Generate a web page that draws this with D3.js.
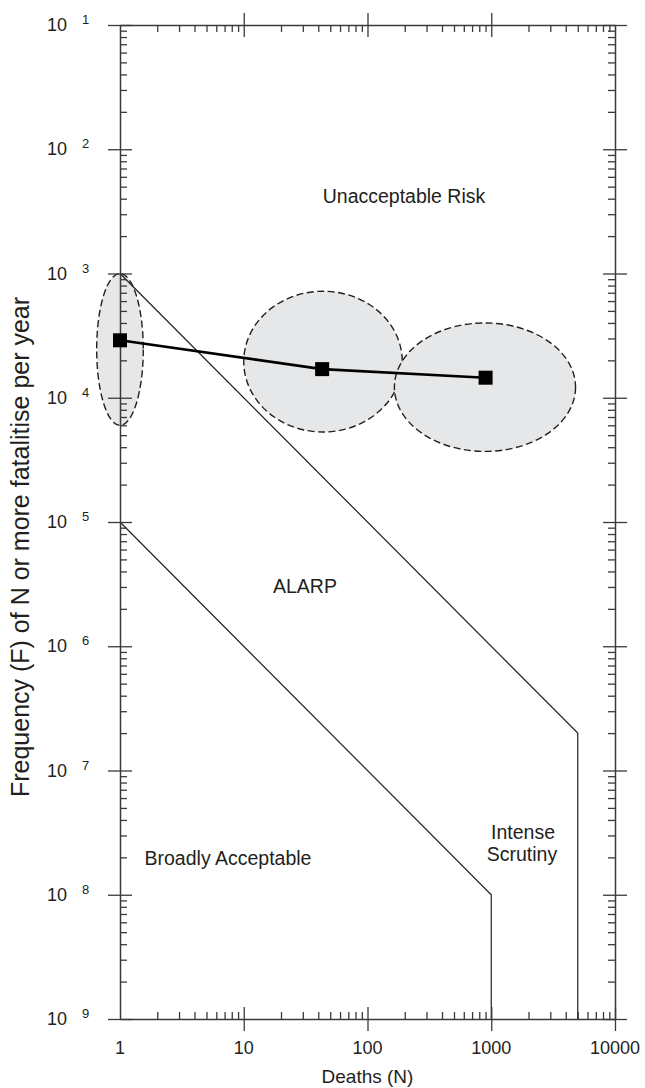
<!DOCTYPE html>
<html>
<head>
<meta charset="utf-8">
<script src="https://cdn.jsdelivr.net/npm/d3@7"></script>
<style>
  body { margin: 0; background: #fff; }
  text { font-family: "Liberation Sans", Arial, sans-serif; fill: #231f20; }
</style>
</head>
<body>
<svg id="chart" width="645" height="1088"></svg>
<script>
// decades on the axes
var xDecades = [1, 10, 100, 1000, 10000];
var xTickLabels = ["1", "10", "100", "1000", "10000"];
var yDecades = [1e-1, 1e-2, 1e-3, 1e-4, 1e-5, 1e-6, 1e-7, 1e-8, 1e-9];
var yTickSup = ["1", "2", "3", "4", "5", "6", "7", "8", "9"];

// criterion lines (N, F)
var upperN = [1, 5000, 5000];
var upperF = [1e-3, 2e-7, 1e-9];
var lowerN = [1, 1000, 1000];
var lowerF = [1e-5, 1e-8, 1e-9];

// estimated risk points
var pointN = [1, 43, 900];
var pointF = [2.9e-4, 1.7e-4, 1.45e-4];

// uncertainty ellipses, bounds in N and F
var ellNLow = [0.648, 10.0, 165];
var ellNHigh = [1.542, 191, 4800];
var ellFHigh = [1.0e-3, 7.2e-4, 4.0e-4];
var ellFLow = [6.0e-5, 5.3e-5, 3.7e-5];

var svg = d3.select("#chart");

var x = d3.scaleLog().domain([1, 10000]).range([120, 615]);
var y = d3.scaleLog().domain([1e-1, 1e-9]).range([25, 1019]);

// minor ticks 2..9 in every decade
var xMinor = [];
for (var i = 0; i < xDecades.length - 1; i++) {
  for (var m = 2; m <= 9; m++) xMinor.push(xDecades[i] * m);
}
var yMinor = [];
for (var i = 1; i < yDecades.length; i++) {
  for (var m = 2; m <= 9; m++) yMinor.push(yDecades[i] * m);
}
var xAll = xDecades.concat(xMinor);
var yAll = yDecades.concat(yMinor);

function isMajorX(d) { return xDecades.indexOf(d) >= 0; }
function isMajorY(d) { return yDecades.indexOf(d) >= 0; }

// ellipses
var ell = svg.append("g");
for (var i = 0; i < ellNLow.length; i++) {
  var x0 = x(ellNLow[i]), x1 = x(ellNHigh[i]);
  var y0 = y(ellFHigh[i]), y1 = y(ellFLow[i]);
  ell.append("ellipse")
    .attr("cx", (x0 + x1) / 2)
    .attr("cy", (y0 + y1) / 2)
    .attr("rx", (x1 - x0) / 2)
    .attr("ry", (y1 - y0) / 2)
    .attr("fill", "#e6e7e8")
    .attr("stroke", "#231f20")
    .attr("stroke-width", 1.4)
    .attr("stroke-dasharray", "7,3.5");
}

// criterion lines
var line = d3.line()
  .x(function(d) { return x(d[0]); })
  .y(function(d) { return y(d[1]); });

svg.append("path")
  .datum(d3.zip(upperN, upperF))
  .attr("d", line)
  .attr("fill", "none")
  .attr("stroke", "#231f20")
  .attr("stroke-width", 1.2);

svg.append("path")
  .datum(d3.zip(lowerN, lowerF))
  .attr("d", line)
  .attr("fill", "none")
  .attr("stroke", "#231f20")
  .attr("stroke-width", 1.2);

// axes
function styleAxis(g, isMajor, vertical) {
  g.select(".domain").attr("stroke", "#3a3a3a").attr("stroke-width", 1.5);
  g.selectAll(".tick line")
    .attr("stroke", "#3a3a3a")
    .attr("stroke-width", 1.3);
  g.selectAll(".tick").filter(isMajor).select("line")
    .attr(vertical ? "x1" : "y1", -12)
    .attr(vertical ? "x2" : "y2", 12);
  g.selectAll(".tick text").remove();
}

var gLeft = svg.append("g").attr("transform", "translate(120,0)")
  .call(d3.axisLeft(y).tickValues(yAll).tickSize(-7).tickSizeOuter(0).tickFormat(""));
styleAxis(gLeft, isMajorY, true);

var gRight = svg.append("g").attr("transform", "translate(615,0)")
  .call(d3.axisRight(y).tickValues(yAll).tickSize(-7).tickSizeOuter(0).tickFormat(""));
styleAxis(gRight, isMajorY, true);

var gTop = svg.append("g").attr("transform", "translate(0,25)")
  .call(d3.axisTop(x).tickValues(xAll.filter(function(d) { return d != 1 && d != 10000; }))
    .tickSize(-7).tickSizeOuter(0).tickFormat(""));
styleAxis(gTop, isMajorX, false);

var gBottom = svg.append("g").attr("transform", "translate(0,1019)")
  .call(d3.axisBottom(x).tickValues(xAll.filter(function(d) { return d != 1; }))
    .tickSize(-7).tickSizeOuter(0).tickFormat(""));
styleAxis(gBottom, isMajorX, false);

// tick labels
svg.selectAll(".ylab")
  .data(yDecades)
  .enter().append("text")
  .attr("class", "ylab")
  .attr("x", 67)
  .attr("y", function(d) { return y(d) + 6; })
  .attr("text-anchor", "end")
  .attr("font-size", 18)
  .text("10");

svg.selectAll(".ysup")
  .data(yDecades)
  .enter().append("text")
  .attr("class", "ysup")
  .attr("x", 82)
  .attr("y", function(d) { return y(d) - 1; })
  .attr("font-size", 13)
  .text(function(d, i) { return yTickSup[i]; });

svg.selectAll(".xlab")
  .data(xDecades)
  .enter().append("text")
  .attr("class", "xlab")
  .attr("x", function(d) { return x(d); })
  .attr("y", 1054)
  .attr("text-anchor", "middle")
  .attr("font-size", 18)
  .text(function(d, i) { return xTickLabels[i]; });

// axis titles
svg.append("text")
  .attr("x", x(100))
  .attr("y", 1083)
  .attr("text-anchor", "middle")
  .attr("font-size", 19)
  .text("Deaths (N)");

svg.append("text")
  .attr("transform", "translate(29,547) rotate(-90)")
  .attr("text-anchor", "middle")
  .attr("font-size", 25)
  .text("Frequency (F) of N or more fatalitise per year");

// data line and points
svg.append("path")
  .datum(d3.zip(pointN, pointF))
  .attr("d", line)
  .attr("fill", "none")
  .attr("stroke", "#000")
  .attr("stroke-width", 2.6);

svg.selectAll(".pt")
  .data(d3.zip(pointN, pointF))
  .enter().append("rect")
  .attr("class", "pt")
  .attr("x", function(d) { return x(d[0]) - 7; })
  .attr("y", function(d) { return y(d[1]) - 7; })
  .attr("width", 14)
  .attr("height", 14)
  .attr("fill", "#000");

// region labels
function label(t, cx, by) {
  svg.append("text")
    .attr("x", cx)
    .attr("y", by)
    .attr("text-anchor", "middle")
    .attr("font-size", 19.5)
    .text(t);
}
label("Unacceptable Risk", 404, 203);
label("ALARP", 305, 593);
label("Broadly Acceptable", 228, 865);
label("Intense", 523, 839);
label("Scrutiny", 522, 861);
</script>
</body>
</html>
